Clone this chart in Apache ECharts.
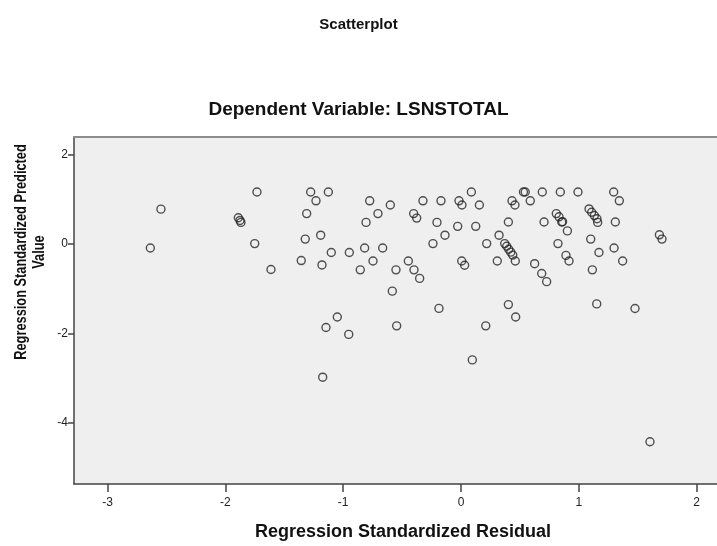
<!DOCTYPE html>
<html>
<head>
<meta charset="utf-8">
<script src="https://cdn.jsdelivr.net/npm/echarts@6/dist/echarts.min.js"></script>
<style>
html,body{margin:0;padding:0;background:#fff;overflow:hidden;}
#c{width:717px;height:546px;}
</style>
</head>
<body>
<div id="c"></div>
<script>
// Regression standardized residual (x) and predicted value (y)
const residuals = [
  -2.637, -2.547, -1.890, -1.876, -1.868, -1.732, -1.751, -1.613,
  -1.356, -1.276, -1.231, -1.126, -1.310, -1.322, -1.191, -1.180,
  -1.101, -0.948, -0.818, -0.747, -0.855, -0.665, -0.775, -0.705,
  -0.806, -0.600, -0.552, -0.583, -0.447, -0.399, -0.351, -0.402,
  -0.376, -0.323, -0.170, -0.204, -0.238, -0.136, -0.017, 0.008,
  0.088, 0.156, -0.028, 0.125, 0.006, 0.031, 0.218, 0.323,
  0.308, 0.371, 0.388, 0.405, 0.422, 0.439, 0.461, 0.402,
  0.433, 0.458, 0.530, 0.545, 0.588, 0.690, 0.843, 0.993,
  1.296, 1.344, 0.705, 0.809, 0.832, 0.855, 0.862, 0.903,
  0.823, 0.891, 0.917, 0.625, 0.685, 0.727, 1.087, 1.109,
  1.132, 1.154, 1.160, 1.310, 1.101, 1.171, 1.299, 1.372,
  1.115, 1.684, 1.706, -0.187, -0.546, 0.210, 0.402, 0.464,
  0.096, 1.152, 1.477, 1.604, -1.050, -1.146, -0.953, -1.174
];
const predicted = [
  -0.090, 0.780, 0.587, 0.528, 0.484, 1.165, 0.010, -0.571,
  -0.370, 1.165, 0.967, 1.165, 0.681, 0.110, 0.198, -0.468,
  -0.189, -0.189, -0.088, -0.380, -0.578, -0.088, 0.967, 0.681,
  0.484, 0.873, -0.578, -1.055, -0.380, -0.578, -0.769, 0.681,
  0.580, 0.967, 0.967, 0.484, 0.009, 0.198, 0.967, 0.873,
  1.165, 0.873, 0.396, 0.396, -0.380, -0.475, 0.009, 0.198,
  -0.380, 0.009, -0.050, -0.116, -0.182, -0.248, -0.380, 0.492,
  0.967, 0.873, 1.165, 1.165, 0.967, 1.165, 1.165, 1.165,
  1.165, 0.967, 0.492, 0.681, 0.609, 0.492, 0.500, 0.294,
  0.009, -0.255, -0.380, -0.440, -0.659, -0.842, 0.785, 0.712,
  0.637, 0.565, 0.484, 0.492, 0.110, -0.189, -0.088, -0.380,
  -0.578, 0.206, 0.110, -1.440, -1.831, -1.831, -1.355, -1.633,
  -2.593, -1.340, -1.442, -4.424, -1.633, -1.868, -2.022, -2.980
];
const xTicks = [-3, -2, -1, 0, 1, 2];
const yTicks = [-4, -2, 0, 2];

const titleText = 'Scatterplot';
const subtitleText = 'Dependent Variable: LSNSTOTAL';
const xName = 'Regression Standardized Residual';
const yName = 'Regression Standardized Predicted\nValue';

const points = residuals.map((r, i) => [r, predicted[i]]);

const FONT = '"Liberation Sans", Arial, sans-serif';
const chart = echarts.init(document.getElementById('c'), null, {renderer: 'canvas', width: 717, height: 546});
chart.setOption({
  animation: false,
  backgroundColor: '#ffffff',
  title: [
    {text: titleText, left: 'center', top: 12,
     textStyle: {fontFamily: FONT, fontSize: 15, fontWeight: 'bold', color: '#111'}},
    {text: subtitleText, left: 'center', top: 95,
     textStyle: {fontFamily: FONT, fontSize: 19, fontWeight: 'bold', color: '#111'}}
  ],
  grid: {
    left: 74, top: 137, width: 643, height: 353,
    show: true, backgroundColor: '#efefef', borderWidth: 0
  },
  xAxis: [{
    type: 'value', min: -3.285, max: 2.173,
    name: xName, nameLocation: 'middle', nameGap: 39,
    nameTextStyle: {fontFamily: FONT, fontSize: 18, fontWeight: 'bold', color: '#111', padding: [0, 0, 0, 15]},
    axisLine: {show: true, onZero: false, lineStyle: {color: '#444', width: 1.5}},
    axisTick: {show: true, length: 8, customValues: xTicks, lineStyle: {color: '#444', width: 1.5}},
    axisLabel: {customValues: xTicks, fontFamily: FONT, fontSize: 12, color: '#222', margin: 13},
    splitLine: {show: false}
  }, {
    type: 'value', position: 'top', min: -3.285, max: 2.173,
    axisLine: {show: true, onZero: false, lineStyle: {color: '#8c8c8c', width: 2}},
    axisTick: {show: false}, axisLabel: {show: false}, splitLine: {show: false}
  }],
  yAxis: {
    type: 'value', min: -5.37, max: 2.395,
    axisLine: {show: true, onZero: false, lineStyle: {color: '#444', width: 1.5}},
    axisTick: {show: true, length: 6, customValues: yTicks, lineStyle: {color: '#444', width: 1.5}},
    axisLabel: {customValues: yTicks, fontFamily: FONT, fontSize: 12, color: '#222', margin: 6},
    splitLine: {show: false}
  },
  graphic: [{
    type: 'text', x: 31, y: 252, rotation: Math.PI / 2, scaleX: 0.8,
    style: {text: yName, fontFamily: FONT, fontSize: 16, fontWeight: 'bold', fill: '#111',
            textAlign: 'center', textVerticalAlign: 'middle', lineHeight: 18}
  }],
  series: [{
    type: 'scatter', xAxisIndex: 0, data: points, symbol: 'circle', symbolSize: 8,
    itemStyle: {color: 'rgba(0,0,0,0)', borderColor: '#262626', borderWidth: 1.4},
    emphasis: {disabled: true}
  }]
});
</script>
</body>
</html>
